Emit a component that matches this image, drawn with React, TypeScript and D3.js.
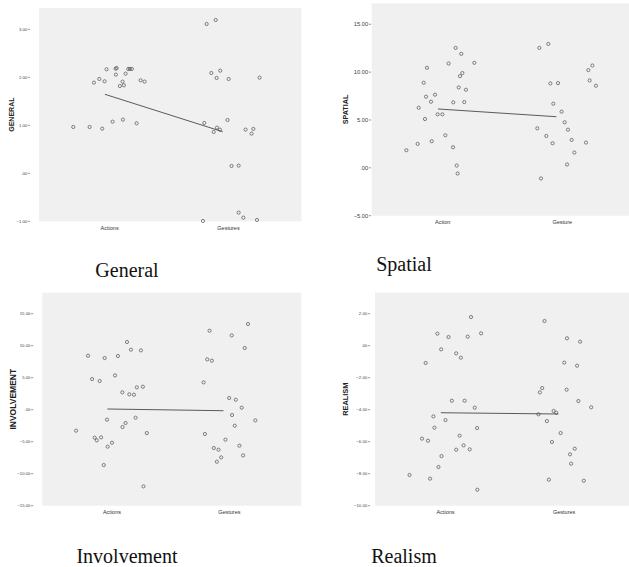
import React from 'react';
import * as d3 from 'd3';

// [x position in category units (1 = first group, 2 = second, jittered), value]
const generalActions = [
  [0.731, 0.965], [0.870, 0.965], [0.977, 0.93], [1.065, 1.076], [1.153, 1.118], [1.269, 1.042],
  [0.907, 1.889], [0.952, 1.965], [0.997, 1.917], [1.014, 2.167], [1.091, 2.18], [1.099, 2.194],
  [1.093, 2.056], [1.127, 1.819], [1.150, 1.91], [1.161, 1.833], [1.176, 2.076], [1.198, 2.174],
  [1.212, 2.174], [1.229, 2.174], [1.303, 1.938], [1.337, 1.91],
];
const generalGestures = [
  [1.864, 3.111], [1.941, 3.194], [1.904, 2.09], [1.980, 2.139], [1.949, 1.986], [2.051, 1.965],
  [2.314, 1.993], [1.844, 1.049], [2.042, 1.111], [1.924, 0.861], [1.952, 0.951], [1.977, 0.91],
  [2.195, 0.91], [2.261, 0.924], [2.246, 0.826], [2.076, 0.153], [2.136, 0.16], [2.136, -0.819],
  [2.176, -0.924], [2.292, -0.972], [1.833, -0.993],
];
const generalFit = [1.646, 0.867];
const generalTicks = [-1, 0, 1, 2, 3];

const spatialActions = [
  [0.733, 1.84], [0.828, 2.5], [0.837, 6.28], [0.879, 8.89], [0.890, 5.1], [0.899, 7.43],
  [0.907, 10.45], [0.941, 6.91], [0.947, 2.78], [0.975, 7.64], [0.997, 5.59], [1.037, 5.59],
  [1.062, 3.4], [1.090, 10.9], [1.127, 2.15], [1.129, 6.84], [1.149, 12.53], [1.158, 0.24],
  [1.166, -0.59], [1.175, 8.4], [1.186, 9.58], [1.197, 11.91], [1.206, 9.9], [1.222, 6.875],
  [1.236, 8.16], [1.307, 10.97],
];
const spatialGestures = [
  [1.839, 4.13], [1.856, 12.53], [1.870, -1.11], [1.915, 3.33], [1.932, 12.95], [1.949, 8.82],
  [1.968, 2.57], [1.974, 6.7], [2.014, 8.85], [2.044, 5.87], [2.070, 4.76], [2.098, 3.99],
  [2.129, 2.92], [2.152, 1.6], [2.090, 0.35], [2.250, 2.64], [2.270, 10.21], [2.281, 9.13],
  [2.304, 10.69], [2.334, 8.58],
];
const spatialFit = [6.15, 5.34];
const spatialTicks = [-5, 0, 5, 10, 15];

const involvementActions = [
  [0.731, -3.28], [0.834, 8.44], [0.869, 4.79], [0.891, -4.375], [0.909, -4.79], [0.934, 4.48],
  [0.946, -4.32], [0.969, -8.65], [0.977, 8.07], [0.997, -1.56], [1.003, -5.78], [1.040, -5.16],
  [1.066, 5.36], [1.091, 8.39], [1.129, 2.71], [1.131, -2.71], [1.157, -2.08], [1.169, 10.57],
  [1.189, 2.4], [1.203, 9.375], [1.229, 2.34], [1.243, -1.25], [1.254, 3.49], [1.289, 9.27],
  [1.306, 3.59], [1.311, -11.98], [1.340, -3.65],
];
const involvementGestures = [
  [1.829, 4.27], [1.840, -3.8], [1.860, 7.86], [1.880, 12.34], [1.900, 7.66], [1.917, -5.99],
  [1.943, -8.125], [1.957, -6.25], [1.980, -7.45], [2.017, -4.69], [2.049, 1.82], [2.071, 11.61],
  [2.074, -0.83], [2.097, -2.5], [2.106, 1.56], [2.137, -5.625], [2.157, 0.31], [2.169, -7.14],
  [2.183, 9.64], [2.211, 13.39], [2.274, -1.67],
];
const involvementFit = [0.11, -0.16];
const involvementTicks = [-15, -10, -5, 0, 5, 10, 15];

const realismActions = [
  [0.734, -8.08], [0.840, -5.81], [0.871, -1.08], [0.891, -5.94], [0.909, -8.31], [0.937, -4.42],
  [0.946, -5.125], [0.971, 0.75], [0.980, -7.58], [1.003, -0.23], [1.006, -6.9], [1.040, -4.65],
  [1.066, 0.54], [1.094, -3.44], [1.131, -0.48], [1.131, -6.5], [1.160, -5.625], [1.171, -0.75],
  [1.194, -6.23], [1.203, -3.44], [1.229, 0.5625], [1.246, -6.48], [1.257, 1.79], [1.289, -3.875],
  [1.309, -5.15], [1.311, -9.0], [1.343, 0.77],
];
const realismGestures = [
  [1.831, -4.29], [1.843, -2.92], [1.863, -2.65], [1.883, 1.54], [1.903, -4.71], [1.920, -8.375],
  [1.946, -6.02], [1.960, -4.08], [1.983, -4.19], [2.020, -5.46], [2.051, -1.06], [2.071, -2.75],
  [2.074, 0.46], [2.100, -6.79], [2.109, -7.375], [2.140, -6.44], [2.160, -1.25], [2.171, -3.46],
  [2.186, 0.25], [2.217, -8.44], [2.280, -3.85],
];
const realismFit = [-4.19, -4.27];
const realismTicks = [-10, -8, -6, -4, -2, 0, 2];

const groupsPlural = ['Actions', 'Gestures'];
const groupsSingular = ['Action', 'Gesture'];

const fmt = (v: number) => {
  const s = d3.format('.2f')(v);
  return s.replace(/^(-?)0\./, '$1.');
};

type PanelProps = {
  yTitle: string; caption: string; groups: string[];
  actions: number[][]; gestures: number[][]; fit: number[]; ticks: number[];
  left: number; top: number; width: number; bottom: number; yMin: number; yMax: number;
  tickGap: number; tickFont: number; titleX: number; titleSize: number;
  xLabelY: number; capX: number; capY: number;
};

function Panel(p: PanelProps) {
  const x = d3.scaleLinear().domain([0.44, 2.67]).range([p.left, p.left + p.width]);
  const y = d3.scaleLinear().domain([p.yMin, p.yMax]).range([p.bottom, p.top]);
  const line = d3.line<number[]>().x(d => x(d[0])).y(d => y(d[1]));
  const pts = [...p.actions, ...p.gestures];
  const dashEnd = p.left - p.tickGap;
  return (
    <g>
      <rect x={p.left} y={p.top} width={p.width} height={p.bottom - p.top} fill="#f0f0f0" />
      {p.ticks.map(t => (
        <g key={t}>
          <line x1={dashEnd - 2.2} x2={dashEnd} y1={y(t)} y2={y(t)} stroke="#555" strokeWidth={0.6} />
          <text x={dashEnd - 2.8} y={y(t)} dy="0.35em" textAnchor="end"
            fontSize={p.tickFont} fill="#444" fontFamily="Liberation Sans, Arial, sans-serif">{fmt(t)}</text>
        </g>
      ))}
      <text transform={`translate(${p.titleX},${(p.top + p.bottom) / 2}) rotate(-90)`}
        textAnchor="middle" dy="0.35em" fontSize={p.titleSize} fontWeight="bold" fill="#222"
        fontFamily="Liberation Sans, Arial, sans-serif">{p.yTitle}</text>
      {p.groups.map((g, i) => (
        <text key={g} x={x([1.04, 2.05][i])} y={p.xLabelY} dy="0.35em" textAnchor="middle"
          fontSize={5.5} fill="#333" fontFamily="Liberation Sans, Arial, sans-serif">{g}</text>
      ))}
      {pts.map((d, i) => (
        <circle key={i} cx={x(d[0])} cy={y(d[1])} r={1.6} fill="none" stroke="#444" strokeWidth={0.65} />
      ))}
      <path d={line([[1, p.fit[0]], [2, p.fit[1]]]) || ''} stroke="#333" strokeWidth={0.8} fill="none" />
      <text x={p.capX} y={p.capY} textAnchor="middle" fontSize={20} fill="#111"
        fontFamily="Liberation Serif, Times New Roman, serif">{p.caption}</text>
    </g>
  );
}

export default function App() {
  return (
    <svg width={629} height={567} style={{ position: 'absolute', left: 0, top: 0, background: '#fff' }}>
      <Panel yTitle="GENERAL" caption="General" groups={groupsPlural}
        actions={generalActions} gestures={generalGestures} fit={generalFit} ticks={generalTicks}
        left={39} top={8} width={262.5} bottom={221.3} yMin={-1} yMax={3.444}
        tickGap={9} tickFont={4.2} titleX={12} titleSize={7} xLabelY={228.3} capX={127} capY={277} />
      <Panel yTitle="SPATIAL" caption="Spatial" groups={groupsSingular}
        actions={spatialActions} gestures={spatialGestures} fit={spatialFit} ticks={spatialTicks}
        left={371.7} top={3.3} width={264} bottom={215.7} yMin={-5} yMax={17.19}
        tickGap={0.6} tickFont={5.8} titleX={345.7} titleSize={7.2} xLabelY={222.3} capX={404} capY={271} />
      <Panel yTitle="INVOLVEMENT" caption="Involvement" groups={groupsPlural}
        actions={involvementActions} gestures={involvementGestures} fit={involvementFit} ticks={involvementTicks}
        left={42.3} top={292.7} width={259} bottom={505.7} yMin={-15} yMax={18.28}
        tickGap={9} tickFont={4.3} titleX={12.7} titleSize={8.5} xLabelY={512.3} capX={127} capY={563} />
      <Panel yTitle="REALISM" caption="Realism" groups={groupsPlural}
        actions={realismActions} gestures={realismGestures} fit={realismFit} ticks={realismTicks}
        left={375} top={292.7} width={262} bottom={505.7} yMin={-10} yMax={3.31}
        tickGap={5} tickFont={4.3} titleX={345.7} titleSize={7.4} xLabelY={512.3} capX={404} capY={563} />
    </svg>
  );
}
